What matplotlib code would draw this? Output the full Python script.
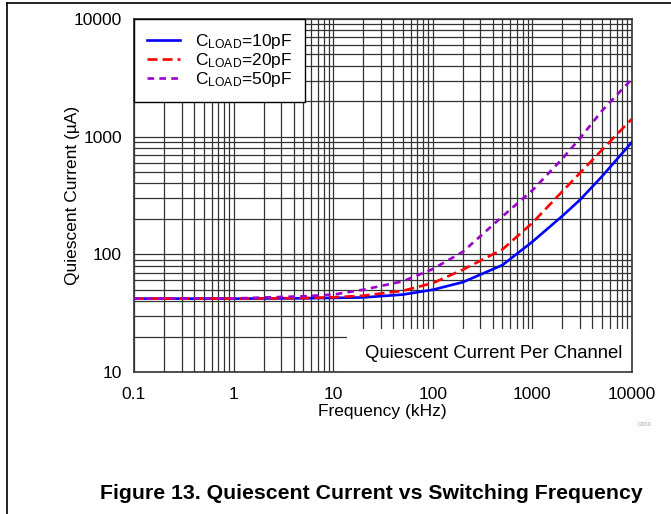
import matplotlib
matplotlib.use("Agg")
import matplotlib.pyplot as plt
from matplotlib.lines import Line2D
from matplotlib.patches import Rectangle

plt.rcParams['font.family'] = ['Liberation Sans', 'DejaVu Sans']
plt.rcParams['mathtext.default'] = 'regular'

# frequency in kHz, current in uA
freq = [0.1, 1, 5, 10, 20, 50, 100, 200, 500, 1000, 2000, 3000, 5000, 10000]
i_10pf = [42, 42, 42.3, 42.6, 43, 45.5, 50, 58, 81, 128, 212, 290, 460, 900]
i_20pf = [42, 42, 42.5, 43.2, 44.5, 49, 57, 74, 110, 185, 343, 491, 773, 1420]
i_50pf = [42, 42.2, 44, 45.5, 50, 59, 75, 105, 210, 350, 650, 968, 1660, 3100]

labels = ['C$_{LOAD}$=10pF', 'C$_{LOAD}$=20pF', 'C$_{LOAD}$=50pF']
xticks = [0.1, 1, 10, 100, 1000, 10000]
xticklabels = ['0.1', '1', '10', '100', '1000', '10000']
yticks = [10, 100, 1000, 10000]
yticklabels = ['10', '100', '1000', '10000']

FS = 12.5

fig = plt.figure(figsize=(6.71, 5.14), dpi=100)
ax = fig.add_axes([134/671, 1 - 372/514, 498/671, 353/514])

ax.set_xscale('log')
ax.set_yscale('log')
ax.set_xlim(0.1, 10000)
ax.set_ylim(10, 10000)

ax.grid(True, which='both', color='#333333', linewidth=0.9, zorder=1)
ax.set_axisbelow(True)

# white patch behind the note text (hides grid in lower right)
ax.add_patch(Rectangle(((347-134)/498, 0), (632-347)/498, (372-329)/353,
                       transform=ax.transAxes, facecolor='white', edgecolor='none', zorder=2))

ax.plot(freq, i_10pf, color='#0000ff', lw=1.9, ls='-', label=labels[0], zorder=3)
ax.plot(freq, i_20pf, color='#ff0000', lw=1.9, ls=(0, (3.8, 1.9)), label=labels[1], zorder=4)
ax.plot(freq, i_50pf, color='#9900cc', lw=1.9, ls=(0, (2.5, 2.0)), label=labels[2], zorder=5)

ax.set_xticks(xticks)
ax.set_xticklabels(xticklabels)
ax.set_yticks(yticks)
ax.set_yticklabels(yticklabels)
ax.tick_params(which='both', length=0, labelsize=FS)
ax.tick_params(axis='x', pad=10.5)
ax.tick_params(axis='y', pad=8.6)
for s in ax.spines.values():
    s.set_color('#333333')
    s.set_linewidth(1.2)

ax.set_xlabel('Frequency (kHz)', fontsize=FS)
ax.xaxis.set_label_coords(0.499, -(404 - 372) / 353)
ax.set_ylabel('Quiescent Current (µA)', fontsize=FS)
ax.yaxis.set_label_coords((80 - 134) / 498, 0.5)

leg = ax.legend(loc='upper left', borderaxespad=0, fancybox=False, framealpha=1,
                edgecolor='black', fontsize=FS, handlelength=1.9, handletextpad=0.85,
                labelspacing=0.0, borderpad=0.75)
leg.get_frame().set_linewidth(1.0)
leg.set_zorder(10)

ax.text((622 - 134) / 498, (372 - 358) / 353, 'Quiescent Current Per Channel',
        transform=ax.transAxes, ha='right', va='baseline', fontsize=13.3, zorder=6)

fig.text(645/671, 1 - 425/514, 'G000', fontsize=4, color='#999999', ha='center', va='center')
fig.text(371/671, 1 - 499/514, 'Figure 13. Quiescent Current vs Switching Frequency',
         fontsize=15.3, fontweight='bold', ha='center', va='baseline')

# page border lines
fig.add_artist(Line2D([7/671, 1], [1 - 3/514, 1 - 3/514], color='black', lw=1.2))
fig.add_artist(Line2D([7/671, 7/671], [0, 1 - 3/514], color='black', lw=1.2))

fig.savefig('out.png', dpi=100)
